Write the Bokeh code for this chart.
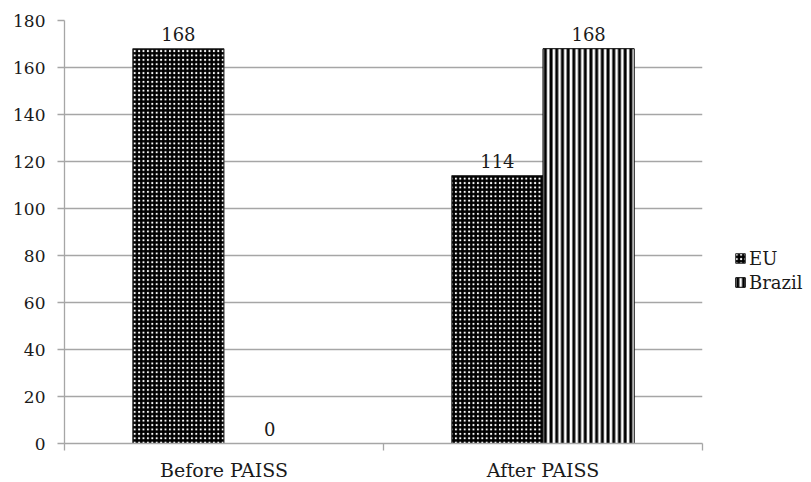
from bokeh.plotting import figure
from bokeh.models import ColumnDataSource, FixedTicker, Legend, LegendItem, LabelSet, Range1d
from bokeh.embed import file_html
from bokeh.resources import INLINE
from bokeh.core.properties import value

categories = ["Before PAISS", "After PAISS"]
eu = [168, 114]
brazil = [0, 168]
y_ticks = [0, 20, 40, 60, 80, 100, 120, 140, 160, 180]

FONT = "DejaVu Serif"
TXT = "#1a1a1a"
bw = 0.286
xc = [i + 0.5 for i in range(len(categories))]

p = figure(frame_width=638, frame_height=423, output_backend="svg", toolbar_location=None,
           x_range=Range1d(0, len(categories)), y_range=Range1d(0, 180),
           min_border_left=64, min_border_top=20, min_border_bottom=30, min_border_right=5)
p.outline_line_color = None
p.background_fill_color = "white"

src_eu = ColumnDataSource(dict(x=[c - bw / 2 for c in xc], top=eu, lab=[str(v) for v in eu]))
src_br = ColumnDataSource(dict(x=[c + bw / 2 for c in xc], top=brazil, lab=[str(v) for v in brazil]))

r_eu = p.vbar(x="x", top="top", width=bw, source=src_eu, fill_color="black", line_color="#333333",
              hatch_pattern="dot", hatch_color="white", hatch_scale=4.4, hatch_weight=1.0)
r_br = p.vbar(x="x", top="top", width=bw, source=src_br, fill_color="white", line_color="black",
              hatch_pattern="vertical_line", hatch_color="black", hatch_scale=5.7, hatch_weight=3.0)

for s in (src_eu, src_br):
    p.add_layout(LabelSet(x="x", y="top", text="lab", source=s, y_offset=8, text_align="center",
                          text_baseline="bottom", text_font=value(FONT), text_font_size="18px",
                          text_color=TXT))

p.yaxis.ticker = FixedTicker(ticks=y_ticks)
p.ygrid.ticker = FixedTicker(ticks=y_ticks)
p.ygrid.grid_line_color = "#a6a6a6"
p.ygrid.grid_line_width = 1.3
p.xgrid.grid_line_color = None
p.yaxis.axis_line_color = "#a6a6a6"
p.yaxis.axis_line_width = 1.3
p.yaxis.major_tick_line_color = "#a6a6a6"
p.yaxis.major_tick_line_width = 1.3
p.yaxis.major_tick_in = 0
p.yaxis.major_tick_out = 7
p.yaxis.minor_tick_line_color = None
p.yaxis.major_label_text_font = FONT
p.yaxis.major_label_text_font_size = "17px"
p.yaxis.major_label_text_color = TXT
p.yaxis.major_label_standoff = 12

p.xaxis.ticker = FixedTicker(ticks=xc, minor_ticks=[0, 1, 2])
p.xaxis.major_label_overrides = {xc[i]: categories[i] for i in range(len(categories))}
p.xaxis.axis_line_color = "#a6a6a6"
p.xaxis.axis_line_width = 1.3
p.xaxis.major_tick_line_color = None
p.xaxis.minor_tick_line_color = "#a6a6a6"
p.xaxis.minor_tick_line_width = 1.3
p.xaxis.minor_tick_in = 0
p.xaxis.minor_tick_out = 7
p.xaxis.major_label_text_font = FONT
p.xaxis.major_label_text_font_size = "19px"
p.xaxis.major_label_text_color = TXT
p.xaxis.major_label_standoff = 8

legend = Legend(items=[LegendItem(label="EU", renderers=[r_eu]),
                       LegendItem(label="Brazil", renderers=[r_br])],
                label_text_font=FONT, label_text_font_size="18px", label_text_color=TXT,
                glyph_width=12, glyph_height=12, spacing=2, label_standoff=3,
                label_height=22,
                border_line_color=None, background_fill_alpha=0, margin=0, padding=0,
                location=(32, 150))
p.add_layout(legend, "right")

open("out.html", "w").write(file_html(p, INLINE))
